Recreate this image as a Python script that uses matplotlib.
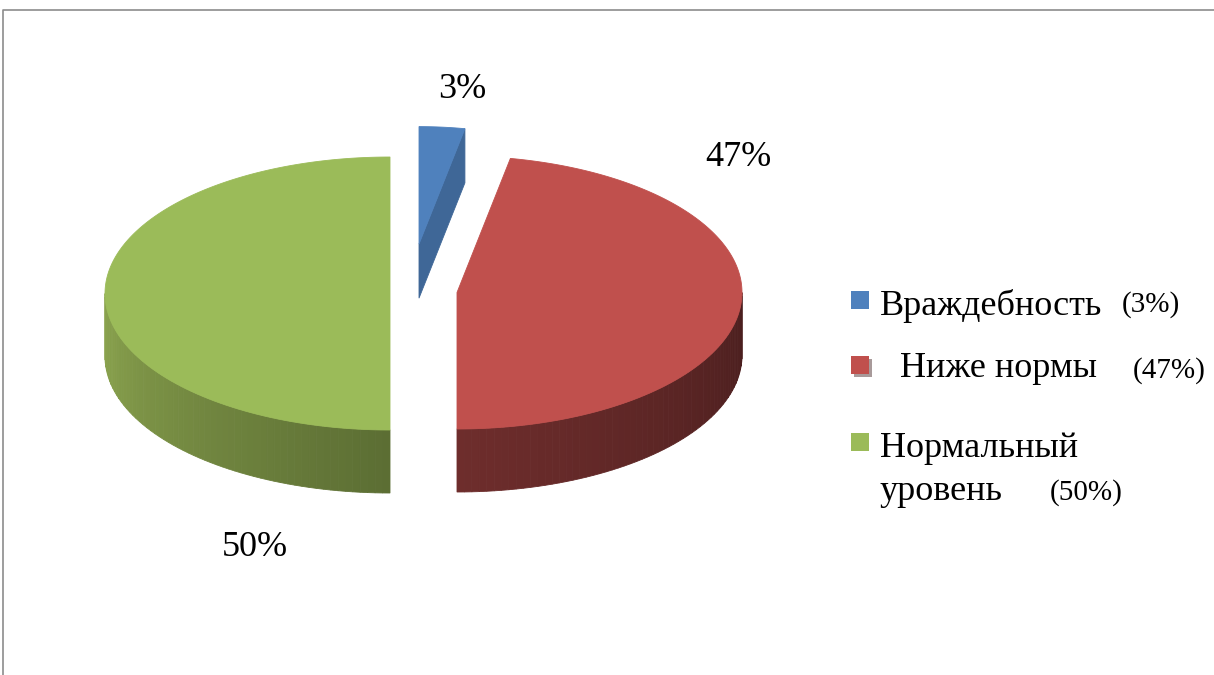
import numpy as np
import matplotlib
matplotlib.use("Agg")
import matplotlib.pyplot as plt
from matplotlib.patches import Polygon, Rectangle
from matplotlib.colors import to_rgb

# --- dane ---
labels = ["Враждебность", "Ниже нормы", "Нормальный\nуровень"]
values = [3, 47, 50]
top_colors = ["#4F81BD", "#C0504D", "#9BBB59"]
side_from = ["#3F6797", "#6E2D2C", "#8CA54F"]   # kolor boku na początku łuku
side_to = ["#3A5F8C", "#4A1E1E", "#5B6D33"]

# --- geometria (piksele, oś y w dół) ---
W, H = 1214, 675
CX, CY, RX, RY, DEPTH = 390, 293.5, 285, 136.5, 63
explode = [(29, -49.5), (67, -1), (0, 0)]
scale = [0.86, 1.0, 1.0]


def pt(cx, cy, rx, ry, th):
    t = np.radians(th)
    return cx + rx * np.cos(t), cy - ry * np.sin(t)


def mix(c1, c2, f):
    a, b = np.array(to_rgb(c1)), np.array(to_rgb(c2))
    return tuple(a + (b - a) * f)


def draw_slice(ax, cx, cy, rx, ry, d, th_end, th_start, top, c_from, c_to):
    # bok zewnętrzny (tylko przednia połowa)
    lo, hi = max(th_end, -180), min(th_start, 0)
    if th_end < 180 and th_start > 180:
        lo, hi = 180, min(th_start, 360)
    if hi > lo:
        n = 60
        edges = np.linspace(lo, hi, n + 1)
        for i in range(n):
            t = np.linspace(edges[i], edges[i + 1], 4)
            xs, ys = pt(cx, cy, rx, ry, t)
            poly = np.concatenate([np.c_[xs, ys], np.c_[xs[::-1], ys[::-1] + d]])
            col = mix(c_from, c_to, (edges[i] - lo) / (hi - lo))
            ax.add_patch(Polygon(poly, closed=True, fc=col, ec=col, lw=0.6))
    # ściana cięcia (widoczna gdy zwrócona do widza)
    if np.sin(np.radians(th_end - 90)) < -1e-6:
        x1, y1 = pt(cx, cy, rx, ry, th_end)
        quad = [(x1, y1), (cx, cy), (cx, cy + d), (x1, y1 + d)]
        ax.add_patch(Polygon(quad, closed=True, fc=c_from, ec=c_from, lw=0.6))
    # wierzch
    t = np.linspace(th_end, th_start, 200)
    xs, ys = pt(cx, cy, rx, ry, t)
    poly = np.concatenate([[[cx, cy]], np.c_[xs, ys]])
    ax.add_patch(Polygon(poly, closed=True, fc=top, ec=top, lw=0.6))


fig = plt.figure(figsize=(W / 100, H / 100), dpi=100)
ax = fig.add_axes([0, 0, 1, 1])
ax.set_xlim(0, W)
ax.set_ylim(H, 0)
ax.axis("off")

# ramka
ax.plot([3, 3, W + 5], [H + 5, 10, 10], color="#8C8C8C", lw=1.2, solid_capstyle="butt")

fracs = np.array(values) / sum(values)
starts = 90 - 360 * np.concatenate([[0], np.cumsum(fracs)[:-1]])
ends = starts - 360 * fracs

for i in [0, 2, 1]:
    s = scale[i]
    draw_slice(ax, CX + explode[i][0], CY + explode[i][1], RX * s, RY * s, DEPTH * s,
               ends[i], starts[i], top_colors[i], side_from[i], side_to[i])

serif = "Liberation Serif"
label_pos = [(462, 90), (738, 158), (255, 548)]
for v, (x, y) in zip(values, label_pos):
    ax.text(x, y, f"{v}%", fontsize=26, family=serif, ha="center", va="center")

# legenda
leg_y = [301, 366, 443]
for i, y in enumerate(leg_y):
    if i == 1:
        ax.add_patch(Rectangle((854, y - 7), 18, 18, fc="#A89A9A", ec="none"))
    ax.add_patch(Rectangle((851, y - 10), 18, 18, fc=top_colors[i], ec="none"))

fs_leg, fs_pct = 26, 21
ax.text(880, 315, labels[0], fontsize=fs_leg, family=serif, va="baseline")
ax.text(1122, 312, f"({values[0]}%)", fontsize=fs_pct, family=serif, va="baseline")
ax.text(900, 377, labels[1], fontsize=fs_leg, family=serif, va="baseline")
ax.text(1133, 378, f"({values[1]}%)", fontsize=fs_pct, family=serif, va="baseline")
l1, l2 = labels[2].split("\n")
ax.text(880, 457, l1, fontsize=fs_leg, family=serif, va="baseline")
ax.text(880, 500, l2, fontsize=fs_leg, family=serif, va="baseline")
ax.text(1050, 500, f"({values[2]}%)", fontsize=fs_pct, family=serif, va="baseline")

fig.savefig("out.png", dpi=100)
